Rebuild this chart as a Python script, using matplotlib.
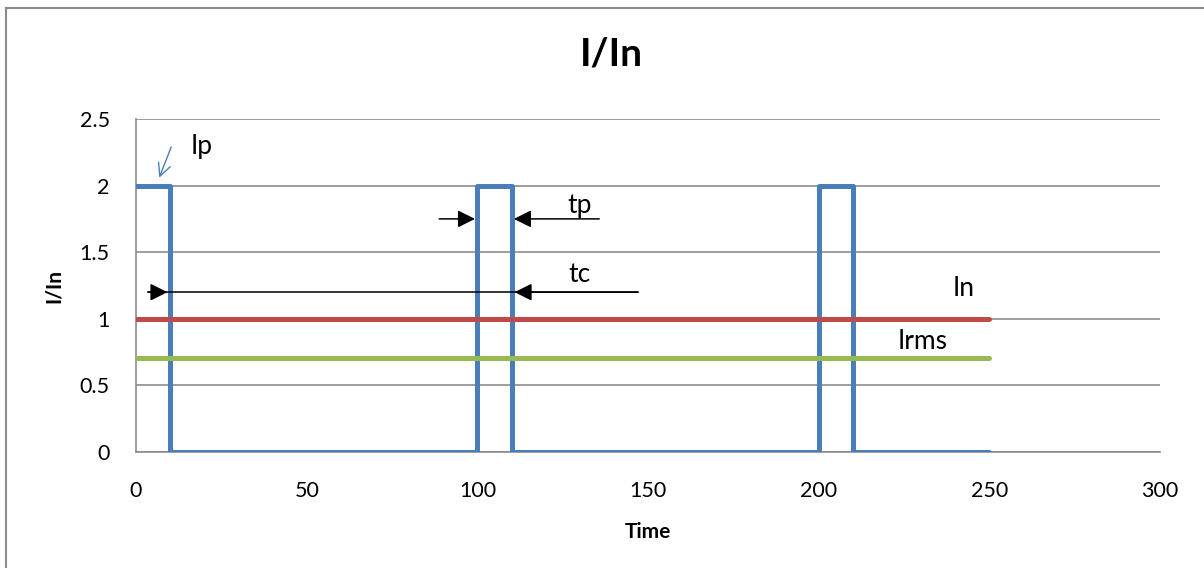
import matplotlib
matplotlib.use("Agg")
import matplotlib.pyplot as plt
from matplotlib.lines import Line2D

# data
pulse_t = [0, 10, 10, 100, 100, 110, 110, 200, 200, 210, 210, 250]
pulse_i = [2, 2, 0, 0, 2, 2, 0, 0, 2, 2, 0, 0]
rated_t = [0, 250]
rated_i = [1, 1]
rms_t = [0, 250]
rms_i = [0.707, 0.707]

x_ticks = [0, 50, 100, 150, 200, 250, 300]
y_ticks = [0, 0.5, 1, 1.5, 2, 2.5]

plt.rcParams['font.family'] = ['Lato', 'DejaVu Sans']

fig = plt.figure(figsize=(12.04, 5.68), dpi=100)
ax = fig.add_axes([0.113, 0.2042, 0.8505, 0.5863])

grid_col = '#8c8c8c'
for y in y_ticks:
    ax.axhline(y, color=grid_col, lw=1.2, zorder=1)

ax.plot(pulse_t, pulse_i, color='#4a7ebb', lw=3.6, solid_capstyle='round',
        solid_joinstyle='round', zorder=3)
ax.plot(rated_t, rated_i, color='#be4b48', lw=3.6, solid_capstyle='round', zorder=4)
ax.plot(rms_t, rms_i, color='#98b954', lw=3.6, solid_capstyle='round', zorder=4)

ax.set_xlim(0, 300)
ax.set_ylim(0, 2.5)
ax.set_xticks(x_ticks)
ax.set_yticks(y_ticks)
ax.set_yticklabels(['0', '0.5', '1', '1.5', '2', '2.5'])
ax.tick_params(length=0, labelsize=15.5)
ax.tick_params(axis='x', pad=21)
ax.tick_params(axis='y', pad=19)
for s in ['top', 'right']:
    ax.spines[s].set_visible(False)
ax.spines['left'].set_color(grid_col)
ax.spines['bottom'].set_color(grid_col)
ax.spines['left'].set_linewidth(1.2)
ax.spines['bottom'].set_linewidth(1.2)

ax.set_xlabel('Time', fontsize=15, fontweight='bold', labelpad=15)
ax.set_ylabel('I/In', fontsize=15, fontweight='bold', labelpad=11)
fig.text(0.5075, 0.905, 'I/In', fontsize=28, fontweight='bold', ha='center', va='center')

# dimension arrows
head = '-|>,head_length=0.7,head_width=0.35'
kw = dict(arrowstyle=head, color='black', lw=1.1, mutation_scale=15, shrinkA=0, shrinkB=0)
ax.annotate('', xy=(99.3, 1.75), xytext=(88.8, 1.75), arrowprops=kw, zorder=5)
ax.annotate('', xy=(110.7, 1.75), xytext=(135.7, 1.75), arrowprops=kw, zorder=5)
ax.plot([3.6, 147], [1.2, 1.2], color='black', lw=1.1, zorder=5)
ax.annotate('', xy=(9.2, 1.2), xytext=(3.6, 1.2), arrowprops=kw, zorder=5)
ax.annotate('', xy=(110.9, 1.2), xytext=(147, 1.2), arrowprops=kw, zorder=5)

ax.annotate('', xy=(6.8, 2.06), xytext=(10.3, 2.29),
            arrowprops=dict(arrowstyle='->,head_length=0.6,head_width=0.3', color='#4a7ebb',
                            lw=1.0, mutation_scale=15, shrinkA=0, shrinkB=0), zorder=5)

lbl = dict(fontsize=19, ha='center', va='center')
ax.text(19.3, 2.29, 'Ip', **lbl)
ax.text(130, 1.85, 'tp', **lbl)
ax.text(129.8, 1.33, 'tc', **lbl)
ax.text(242.4, 1.23, 'In', **lbl)
ax.text(230.3, 0.83, 'Irms', **lbl)

# chart border (only left and top edges are inside the crop)
fig.add_artist(Line2D([0.005, 0.005], [0, 0.986], color=grid_col, lw=1.5))
fig.add_artist(Line2D([0.005, 1], [0.986, 0.986], color=grid_col, lw=1.5))

fig.savefig('out.png', dpi=100)
